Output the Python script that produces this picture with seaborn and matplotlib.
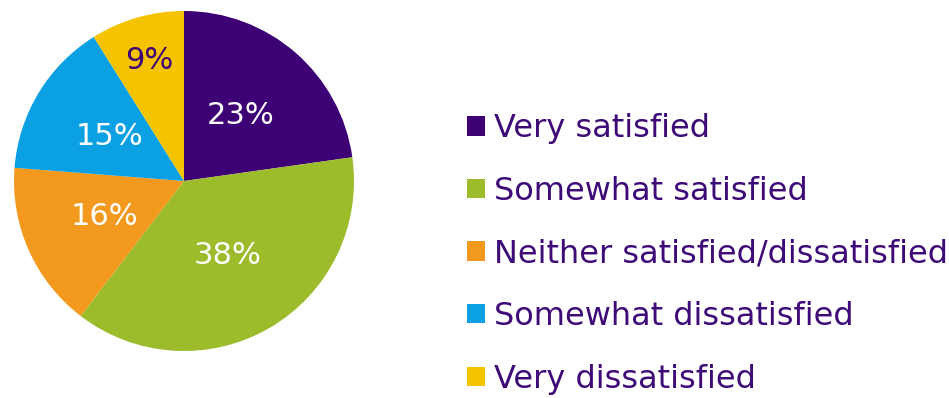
import matplotlib.pyplot as plt
import seaborn as sb

categories = ["Very satisfied", "Somewhat satisfied", "Neither satisfied/dissatisfied",
              "Somewhat dissatisfied", "Very dissatisfied"]
values = [23, 38, 16, 15, 9]
colors = ["#3d0075", "#9cbc2b", "#f39a1e", "#0aa0e3", "#f5c300"]
label_colors = ["white", "white", "white", "white", "#3d0075"]

sb.set_style("white")
plt.rcParams["font.family"] = ["DejaVu Sans"]

fig = plt.figure(figsize=(9.49, 3.98), dpi=100)
ax = fig.add_axes([14 / 949, 47 / 398, 340 / 949, 340 / 398])

wedges, texts, autotexts = ax.pie(values, colors=colors, startangle=90, counterclock=False,
                                  autopct="%1.0f%%", pctdistance=0.51,
                                  wedgeprops=dict(linewidth=0))
for t, v, c in zip(autotexts, values, label_colors):
    t.set_text(f"{v}%")
    t.set_color(c)
    t.set_fontsize(22)
# small slice label sits further out
x, y = autotexts[-1].get_position()
autotexts[-1].set_position((x * 1.45, y * 1.45))
ax.set_xlim(-1, 1)
ax.set_ylim(-1, 1)
ax.set_aspect("equal")

leg = fig.legend(wedges, categories, loc="center left", bbox_to_anchor=(467 / 949, 0.362),
                 frameon=False, fontsize=23, handlelength=0.56, handleheight=0.56,
                 handletextpad=0.28, labelspacing=0.99, borderpad=0, borderaxespad=0)
for t in leg.get_texts():
    t.set_color("#3d0a78")

fig.savefig("out.png", dpi=100)
